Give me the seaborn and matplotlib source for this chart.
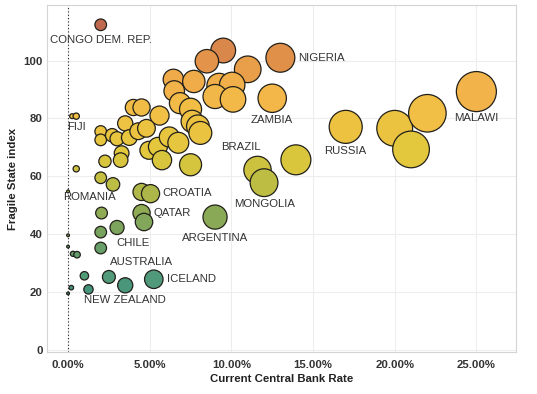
import numpy as np
import pandas as pd
import matplotlib.pyplot as plt
import seaborn as sns
from matplotlib.colors import LinearSegmentedColormap
from matplotlib.ticker import FuncFormatter

sns.set_style('white')
plt.rcParams['font.family'] = ['Liberation Sans', 'DejaVu Sans']

# central bank rate (%) and fragile state index
rate = [2.0,
        9.5, 8.5, 11.0, 13.0, 12.5, 6.45, 7.7, 9.25, 10.05, 6.5, 9.0, 10.1, 6.85, 7.5,
        7.6, 7.95, 8.1,
        4.0, 4.5, 5.6, 3.5, 2.0, 2.0, 2.7, 3.0, 3.75, 4.3, 4.8, 3.28, 3.22, 2.26,
        4.95, 5.5, 6.2, 6.75, 5.75, 7.5,
        17.0, 13.95, 20.0, 21.0, 22.0, 25.0, 11.6, 12.0,
        0.25, 0.5, 0.5, 2.0, 2.75, 0.0, 4.5, 5.05, 2.05, 4.5, 4.65, 9.0,
        2.0, 3.0, 0.0, 0.0, 2.0, 0.3, 0.55, 1.0, 2.5, 3.5, 5.25, 1.25, 0.2, 0.0]
fsi = [112.4,
       103.5, 99.8, 97.0, 101.0, 87.0, 93.5, 92.8, 91.4, 91.6, 89.5, 87.6, 86.6, 85.3, 83.2,
       79.0, 77.3, 75.0,
       83.8, 83.8, 81.0, 78.3, 75.5, 72.6, 74.2, 73.0, 73.4, 75.6, 76.6, 68.0, 65.6, 65.2,
       69.0, 70.2, 73.6, 71.6, 65.6, 64.0,
       77.1, 65.7, 76.6, 69.3, 81.8, 89.3, 62.2, 57.8,
       80.8, 80.8, 62.6, 59.5, 57.2, 54.8, 54.6, 54.0, 47.3, 47.3, 44.2, 45.9,
       40.7, 42.3, 39.6, 35.7, 35.2, 33.2, 32.9, 25.6, 25.2, 22.3, 24.4, 20.9, 21.5, 19.5]

label_text = ['CONGO DEM. REP.', 'NIGERIA', 'ZAMBIA', 'MALAWI', 'RUSSIA', 'BRAZIL',
              'MONGOLIA', 'FIJI', 'ROMANIA', 'CROATIA', 'QATAR', 'ARGENTINA', 'CHILE',
              'AUSTRALIA', 'ICELAND', 'NEW ZEALAND']
label_x = [2.0, 14.1, 12.5, 25.0, 17.0, 10.6, 12.05, 0.5, 1.3, 5.8, 5.26, 9.0, 4.0, 4.47, 6.04, 3.5]
label_y = [107.0, 101.0, 79.4, 80.0, 68.6, 70.0, 50.5, 77.0, 52.8, 54.1, 47.4, 38.8, 37.0, 30.3, 24.5, 17.2]
label_ha = ['center', 'left', 'center', 'center', 'center', 'center', 'center', 'center',
            'center', 'left', 'left', 'center', 'center', 'center', 'left', 'center']

df = pd.DataFrame({'rate': rate, 'fsi': fsi})

cmap = LinearSegmentedColormap.from_list('fsi', [
    (0.00, '#3f8f7a'), (0.05, '#4f9a7c'), (0.20, '#6e9f62'), (0.28, '#86a858'),
    (0.40, '#b9bc45'), (0.52, '#e2c83b'), (0.66, '#f1c044'), (0.75, '#f2b44a'),
    (0.80, '#efa949'), (0.87, '#e2914a'), (1.00, '#c0684f')])

fig, ax = plt.subplots(figsize=(5.37, 3.94), dpi=100)
fig.subplots_adjust(left=0.0875, right=0.961, bottom=0.107, top=0.987)

ax.axvline(0, color='#222222', linestyle=(0, (1, 2)), linewidth=0.8, zorder=1)

sns.scatterplot(data=df, x='rate', y='fsi', hue='fsi', palette=cmap,
                hue_norm=(19, 113), size='rate', sizes=(4, 830), size_norm=(0, 25),
                edgecolor='#22201a', linewidth=0.9, alpha=1, legend=False, ax=ax, zorder=3)

for t, x, y, ha in zip(label_text, label_x, label_y, label_ha):
    ax.text(x, y, t, ha=ha, va='center', fontsize=8.2, color='#333333', zorder=4)

ax.set_xlim(-1.29, 27.43)
ax.set_ylim(-0.7, 119.2)
ax.set_xticks([0, 5, 10, 15, 20, 25])
ax.set_yticks([0, 20, 40, 60, 80, 100])
ax.xaxis.set_major_formatter(FuncFormatter(lambda v, p: f'{v:.2f}%'))
ax.tick_params(axis='both', length=0, labelsize=8.2, colors='#333333')
ax.tick_params(axis='y', pad=3)
ax.tick_params(axis='x', pad=6)
for lab in ax.get_xticklabels() + ax.get_yticklabels():
    lab.set_fontweight('bold')
ax.grid(True, color='#ededed', linewidth=0.8, zorder=0)
ax.set_axisbelow(True)
for s in ax.spines.values():
    s.set_color('#d4d4d4')
    s.set_linewidth(0.8)

ax.set_xlabel('Current Central Bank Rate', fontsize=8.2, fontweight='bold', color='#222222', labelpad=3)
ax.set_ylabel('Fragile State index', fontsize=8.2, fontweight='bold', color='#222222', labelpad=4)

plt.savefig('out.png', dpi=100)
